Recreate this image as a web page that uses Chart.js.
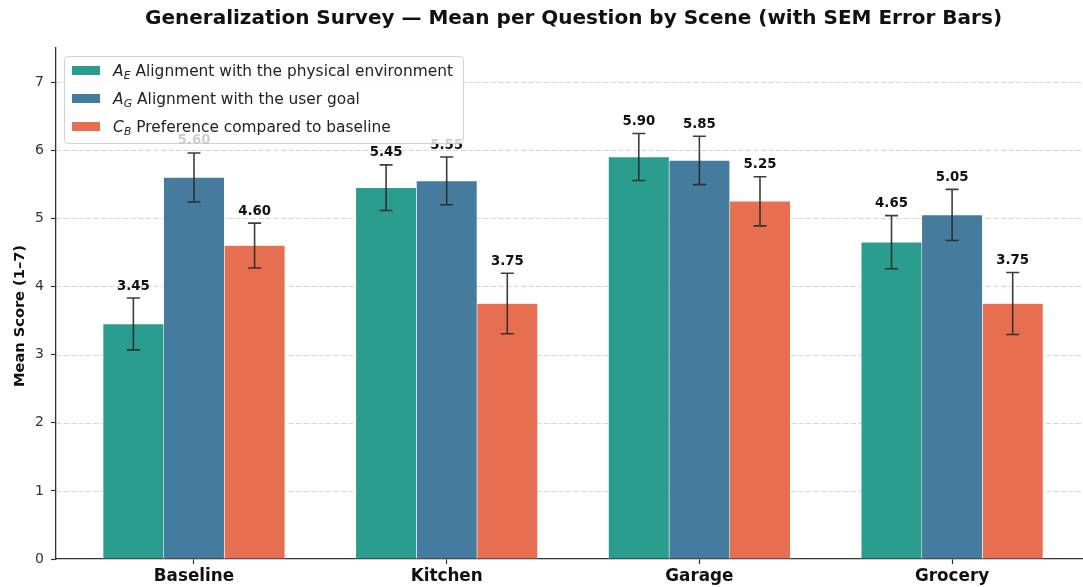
<!DOCTYPE html>
<html>
<head>
<meta charset="utf-8">
<title>Generalization Survey</title>
<script src="https://cdn.jsdelivr.net/npm/chart.js@4/dist/chart.umd.min.js"></script>
<style>
  html, body { margin: 0; padding: 0; background: #ffffff; overflow: hidden; }
  canvas { display: block; }
</style>
</head>
<body>
<canvas id="chart" width="1083" height="587"></canvas>
<script>
// Scenes and per-question survey means (1–7 scale) with standard errors
const categories = ['Baseline', 'Kitchen', 'Garage', 'Grocery'];
const meanAE = [3.45, 5.45, 5.90, 4.65];
const meanAG = [5.60, 5.55, 5.85, 5.05];
const meanCB = [4.60, 3.75, 5.25, 3.75];
const semAE = [0.38, 0.335, 0.345, 0.39];
const semAG = [0.36, 0.35, 0.355, 0.375];
const semCB = [0.33, 0.445, 0.36, 0.455];
const yTicks = [0, 1, 2, 3, 4, 5, 6, 7];

// Legend text: italic symbol, subscript, description
const seriesSymbols = ['A', 'A', 'C'];
const seriesSubs = ['E', 'G', 'B'];
const seriesNames = [
  'Alignment with the physical environment',
  'Alignment with the user goal',
  'Preference compared to baseline'
];
const seriesColors = ['#2a9d8f', '#457b9d', '#e76f51'];

const titleText = 'Generalization Survey \u2014 Mean per Question by Scene (with SEM Error Bars)';
const yTitleText = 'Mean Score (1\u20137)';

const FONT = "'DejaVu Sans', 'Liberation Sans', sans-serif";

const means = [meanAE, meanAG, meanCB];
const sems = [semAE, semAG, semCB];

const datasets = means.map((vals, s) => ({
  label: seriesSymbols[s] + '_' + seriesSubs[s] + ' ' + seriesNames[s],
  data: vals.map((v, i) => ({ x: i, y: v })),
  sem: sems[s],
  backgroundColor: seriesColors[s],
  borderColor: 'rgba(255,255,255,0.95)',
  borderWidth: 0.6,
  borderSkipped: 'start',
  barThickness: 60.6
}));

// Dashed horizontal grid behind the bars
const gridPlugin = {
  id: 'dashedGrid',
  beforeDatasetsDraw(chart) {
    const { ctx, chartArea, scales } = chart;
    ctx.save();
    ctx.strokeStyle = 'rgba(176,176,176,0.55)';
    ctx.lineWidth = 1;
    ctx.setLineDash([5, 2.5]);
    yTicks.forEach(t => {
      if (t === 0) return;
      const y = Math.round(scales.y.getPixelForValue(t)) + 0.5;
      ctx.beginPath();
      ctx.moveTo(chartArea.left, y);
      ctx.lineTo(chartArea.right, y);
      ctx.stroke();
    });
    ctx.restore();
  }
};

// Error bars and value labels above each bar
const errorPlugin = {
  id: 'errorBars',
  afterDatasetsDraw(chart) {
    const { ctx, scales } = chart;
    ctx.save();
    chart.data.datasets.forEach((ds, s) => {
      const meta = chart.getDatasetMeta(s);
      meta.data.forEach((bar, i) => {
        const v = ds.data[i].y;
        const e = ds.sem[i];
        const x = bar.x;
        const yTop = scales.y.getPixelForValue(v + e);
        const yBot = scales.y.getPixelForValue(v - e);
        ctx.strokeStyle = 'rgba(40,40,40,0.9)';
        ctx.lineWidth = 1.6;
        ctx.setLineDash([]);
        ctx.beginPath();
        ctx.moveTo(x, yTop); ctx.lineTo(x, yBot);
        ctx.moveTo(x - 6.5, yTop); ctx.lineTo(x + 6.5, yTop);
        ctx.moveTo(x - 6.5, yBot); ctx.lineTo(x + 6.5, yBot);
        ctx.stroke();
        ctx.fillStyle = '#111111';
        ctx.font = 'bold 13.3px ' + FONT;
        ctx.textAlign = 'center';
        ctx.textBaseline = 'alphabetic';
        ctx.fillText(v.toFixed(2), x, yTop - 8.5);
      });
    });
    ctx.restore();
  }
};

// Title, y-axis title and the legend box drawn over the plot
const overlayPlugin = {
  id: 'overlay',
  afterDraw(chart) {
    const { ctx } = chart;
    ctx.save();
    // title
    ctx.fillStyle = '#111111';
    ctx.font = 'bold 20px ' + FONT;
    ctx.textAlign = 'center';
    ctx.textBaseline = 'middle';
    ctx.fillText(titleText, 573.5, 18.5);

    // y-axis title
    ctx.save();
    ctx.translate(20, 316);
    ctx.rotate(-Math.PI / 2);
    ctx.font = 'bold 14.6px ' + FONT;
    ctx.fillText(yTitleText, 0, 0);
    ctx.restore();

    // legend
    const bx = 64.5, by = 56.5, bw = 399, bh = 87, r = 4;
    ctx.beginPath();
    ctx.moveTo(bx + r, by);
    ctx.lineTo(bx + bw - r, by);
    ctx.arcTo(bx + bw, by, bx + bw, by + r, r);
    ctx.lineTo(bx + bw, by + bh - r);
    ctx.arcTo(bx + bw, by + bh, bx + bw - r, by + bh, r);
    ctx.lineTo(bx + r, by + bh);
    ctx.arcTo(bx, by + bh, bx, by + bh - r, r);
    ctx.lineTo(bx, by + r);
    ctx.arcTo(bx, by, bx + r, by, r);
    ctx.closePath();
    ctx.fillStyle = 'rgba(255,255,255,0.8)';
    ctx.fill();
    ctx.strokeStyle = 'rgba(204,204,204,0.9)';
    ctx.lineWidth = 1;
    ctx.stroke();

    chart.data.datasets.forEach((ds, s) => {
      const cy = 70.5 + s * 28;
      ctx.fillStyle = ds.backgroundColor;
      ctx.fillRect(72, cy - 4.5, 28, 9);
      ctx.fillStyle = '#222222';
      ctx.textAlign = 'left';
      ctx.textBaseline = 'alphabetic';
      const base = cy + 5.5;
      ctx.font = 'italic 15.4px ' + FONT;
      ctx.fillText(seriesSymbols[s], 113, base);
      const w1 = ctx.measureText(seriesSymbols[s]).width;
      ctx.font = 'italic 10.8px ' + FONT;
      ctx.fillText(seriesSubs[s], 113 + w1 + 0.3, base + 3);
      const w2 = ctx.measureText(seriesSubs[s]).width;
      ctx.font = '15.4px ' + FONT;
      ctx.fillText(' ' + seriesNames[s], 113 + w1 + 0.3 + w2, base);
    });
    ctx.restore();
  }
};

new Chart(document.getElementById('chart').getContext('2d'), {
  type: 'bar',
  data: { datasets },
  plugins: [gridPlugin, errorPlugin, overlayPlugin],
  options: {
    responsive: false,
    animation: false,
    devicePixelRatio: 1,
    layout: { padding: { top: 48, left: 0, right: 0, bottom: 0 } },
    plugins: {
      legend: { display: false },
      title: { display: false },
      tooltip: { enabled: false }
    },
    scales: {
      x: {
        type: 'linear',
        min: -0.546,
        max: 3.518,
        offset: false,
        afterBuildTicks: (s) => { s.ticks = categories.map((_, i) => ({ value: i })); },
        afterFit: (s) => { s.height = 28; },
        grid: { display: true, offset: false, drawOnChartArea: false, drawTicks: true, tickLength: 5, tickColor: '#333333', tickWidth: 1.2 },
        border: { display: true, color: '#333333', width: 1.3 },
        ticks: {
          autoSkip: false,
          maxRotation: 0,
          padding: 3,
          color: '#111111',
          font: { family: FONT, size: 16.8, weight: 'bold' },
          callback: (v) => categories[v]
        }
      },
      y: {
        min: 0,
        max: 7.5,
        afterBuildTicks: (s) => { s.ticks = yTicks.map(v => ({ value: v })); },
        afterFit: (s) => { s.width = 56; },
        grid: { display: true, offset: false, drawOnChartArea: false, drawTicks: true, tickLength: 5, tickColor: '#333333', tickWidth: 1.2 },
        border: { display: true, color: '#333333', width: 1.3 },
        ticks: {
          padding: 7,
          color: '#333333',
          font: { family: FONT, size: 14 },
          callback: (v) => String(v)
        }
      }
    }
  }
});
</script>
</body>
</html>
